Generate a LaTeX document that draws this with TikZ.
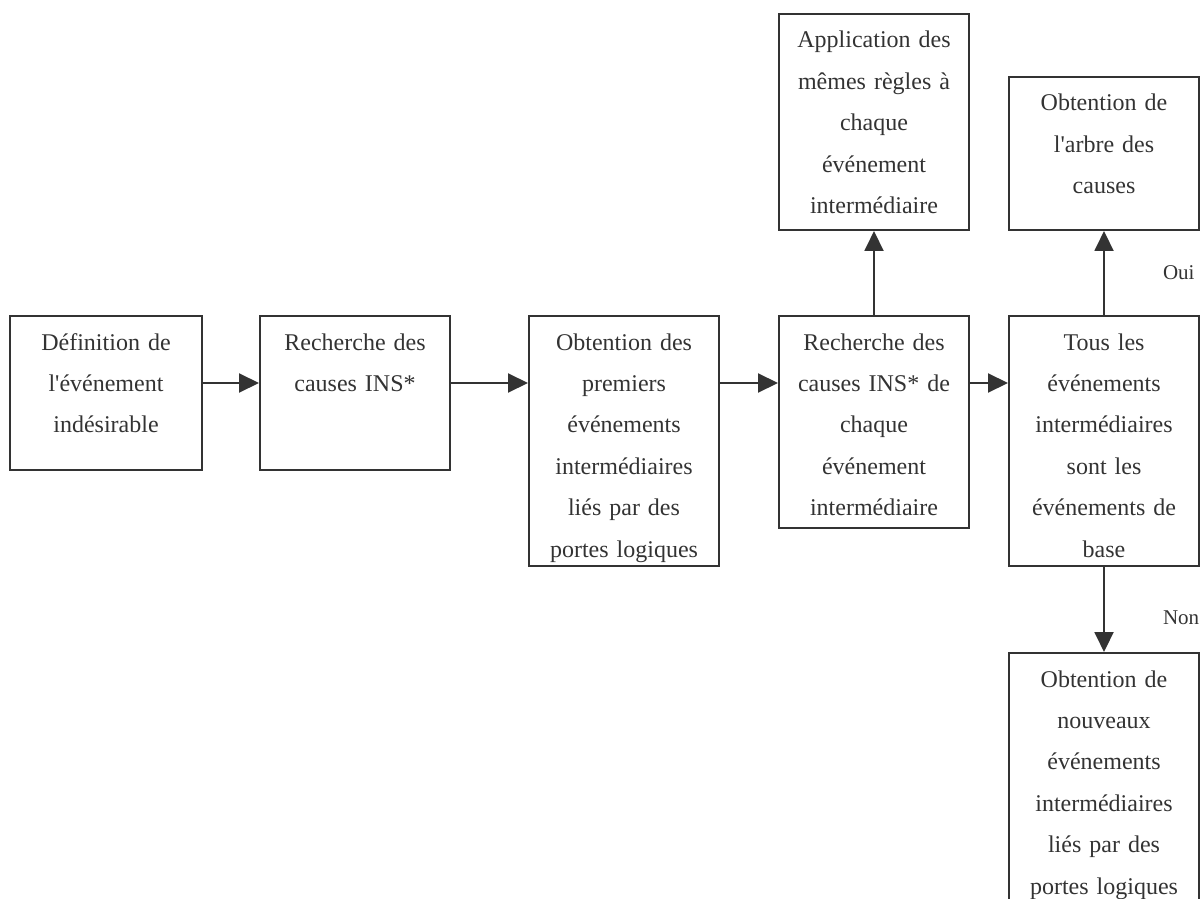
\documentclass[tikz,border=0pt]{standalone}
\usepackage{fontspec}
\setmainfont{Liberation Serif}
\usetikzlibrary{arrows.meta}
\begin{document}
\begin{tikzpicture}[x=0.5pt, y=-0.5pt,
	etape/.style={draw=black!80, line width=1pt, text=black!80, anchor=north west, text width=95pt, align=center, inner xsep=0pt, inner ysep=0pt, text height=17pt, font=\fontsize{12}{20.7}\selectfont},
	fleche/.style={-{Triangle[length=10pt, width=9.5pt]}, line width=1pt, draw=black!80},
	reponse/.style={inner sep=0pt, text=black!80, font=\fontsize{10.5}{12}\selectfont}]
	\clip (0,0) rectangle (1202,898);
	\node[etape, text depth=60pt, text width=96pt] (def) at (9,315) {Définition de\\l\textquotesingle événement\\indésirable};
	\node[etape, text depth=60pt] (rech) at (259,315) {Recherche des\\causes INS*};
	\node[etape, text depth=108pt] (prem) at (528,315) {Obtention des\\premiers\\événements\\intermédiaires\\liés par des\\portes logiques};
	\node[etape, text depth=89pt] (rechi) at (778,315) {Recherche des\\causes INS* de\\chaque\\événement\\intermédiaire};
	\node[etape, text depth=108pt] (tous) at (1008,315) {Tous les\\événements\\intermédiaires\\sont les\\événements de\\base};
	\node[etape, text depth=91pt] (regles) at (778,13) {Application des\\mêmes règles à\\chaque\\événement\\intermédiaire};
	\node[etape, text depth=59.5pt] (arbre) at (1008,76) {Obtention de\\l\textquotesingle arbre des\\causes};
	\node[etape, text depth=127pt] (nouv) at (1008,652) {Obtention de\\nouveaux\\événements\\intermédiaires\\liés par des\\portes logiques};
	\draw[fleche] ([yshift=-34pt]def.north east) -- ([yshift=-34pt]rech.north west);
	\draw[fleche] ([yshift=-34pt]rech.north east) -- ([yshift=-34pt]prem.north west);
	\draw[fleche] ([yshift=-34pt]prem.north east) -- ([yshift=-34pt]rechi.north west);
	\draw[fleche] ([yshift=-34pt]rechi.north east) -- ([yshift=-34pt]tous.north west);
	\draw[fleche] (rechi.north) -- (regles.south);
	\draw[fleche] (tous.north) -- node[reponse, pos=0.5, right=29pt] {Oui} (arbre.south);
	\draw[fleche] (tous.south) -- node[reponse, pos=0.6, right=29pt] {Non} (nouv.north);
\end{tikzpicture}
\end{document}
